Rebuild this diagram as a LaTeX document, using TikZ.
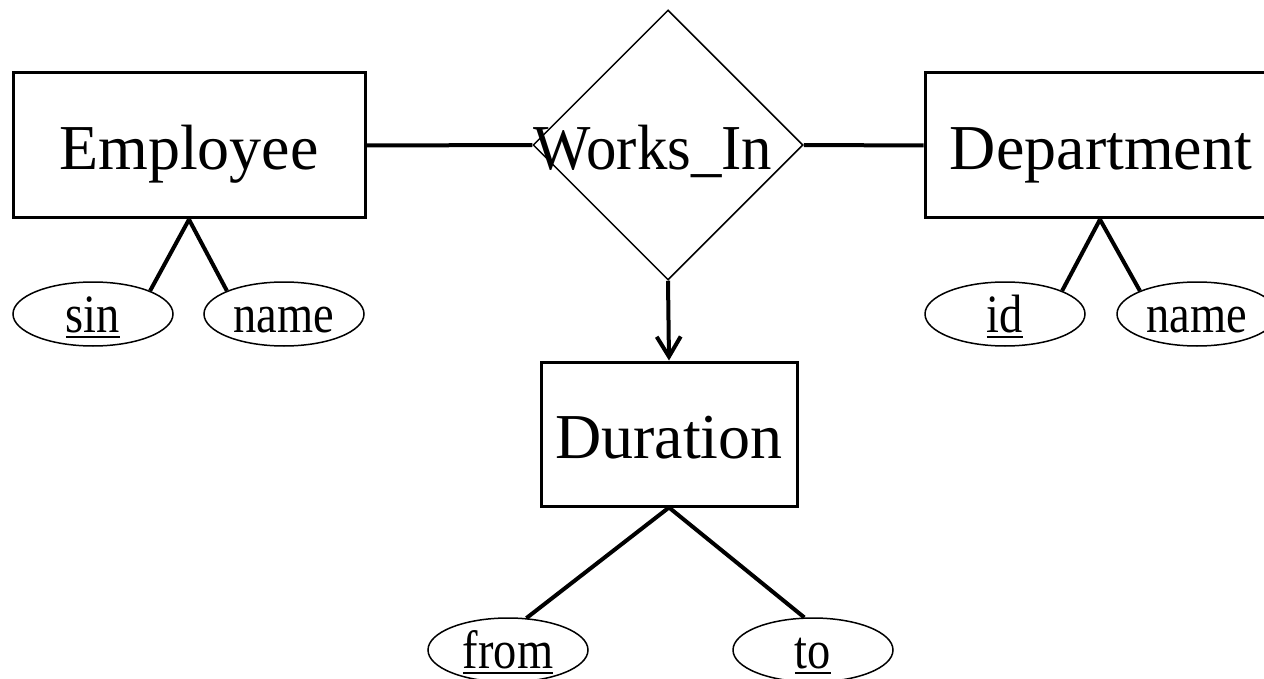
\documentclass[tikz,border=0pt]{standalone}
\usepackage{fontspec}
\setmainfont{Liberation Serif}
\usepackage{graphicx}
\usetikzlibrary{shapes.geometric,arrows.meta}
\newcommand\myul[1]{\setbox0\hbox{#1}\rlap{\rule[-6pt]{\wd0}{2.5pt}}\box0}
\newcommand\attrtxt[1]{\scalebox{0.86}[1]{#1}}
\begin{document}
\begin{tikzpicture}[x=1pt,y=-1pt,
  entity/.style={rectangle,draw,line width=3pt,minimum width=352pt,minimum height=145pt,
    inner sep=0pt,text height=49pt,text depth=0pt,font=\fontsize{64}{70}\selectfont},
  attr/.style={ellipse,draw,line width=1.5pt,minimum width=160pt,minimum height=64pt,
    inner sep=0pt,text height=36pt,text depth=0pt,font=\fontsize{54}{60}\selectfont},
  rel/.style={diamond,draw,line width=1.5pt,minimum width=270pt,minimum height=270pt,inner sep=0pt},
  reltext/.style={inner sep=0pt,text height=49pt,text depth=0pt,font=\fontsize{64}{70}\selectfont},
  conn/.style={line width=4pt}]
\useasboundingbox (0,0) rectangle (1264,679);
\node[entity] (emp) at (189,145.5) {Employee};
\node[entity] (dept) at (1101,145.5) {Department};
\node[entity,minimum width=256pt,minimum height=144pt] (dur) at (669,434) {Duration};
\node[rel,label={[reltext,xshift=-15pt]center:\scalebox{0.95}[1]{Works\_In}}] (wi) at (668,145) {};
\node[attr] (sin) at (93,314) {\attrtxt{\myul{sin}}};
\node[attr] (ename) at (284,314) {\attrtxt{name}};
\node[attr] (id) at (1005,314) {\attrtxt{\myul{id}}};
\node[attr] (dname) at (1197,314) {\attrtxt{name}};
\node[attr] (from) at (508,650) {\attrtxt{\myul{from}}};
\node[attr] (to) at (813,650) {\attrtxt{\myul{to}}};
\draw[conn] (emp.east) -- (wi.west);
\draw[conn] (wi.east) -- (dept.west);
\draw[conn,-{Straight Barb[length=20pt,width=24pt]}] (wi.south) -- (dur.north);
\draw[conn] (emp.south) -- (sin.north east);
\draw[conn] (emp.south) -- (ename.north west);
\draw[conn] ([xshift=-1pt]dept.south) -- (id.north east);
\draw[conn] ([xshift=-1pt]dept.south) -- (dname.north west);
\draw[conn] (dur.south) -- (from.60);
\draw[conn] (dur.south) -- (to.105);
\end{tikzpicture}
\end{document}
